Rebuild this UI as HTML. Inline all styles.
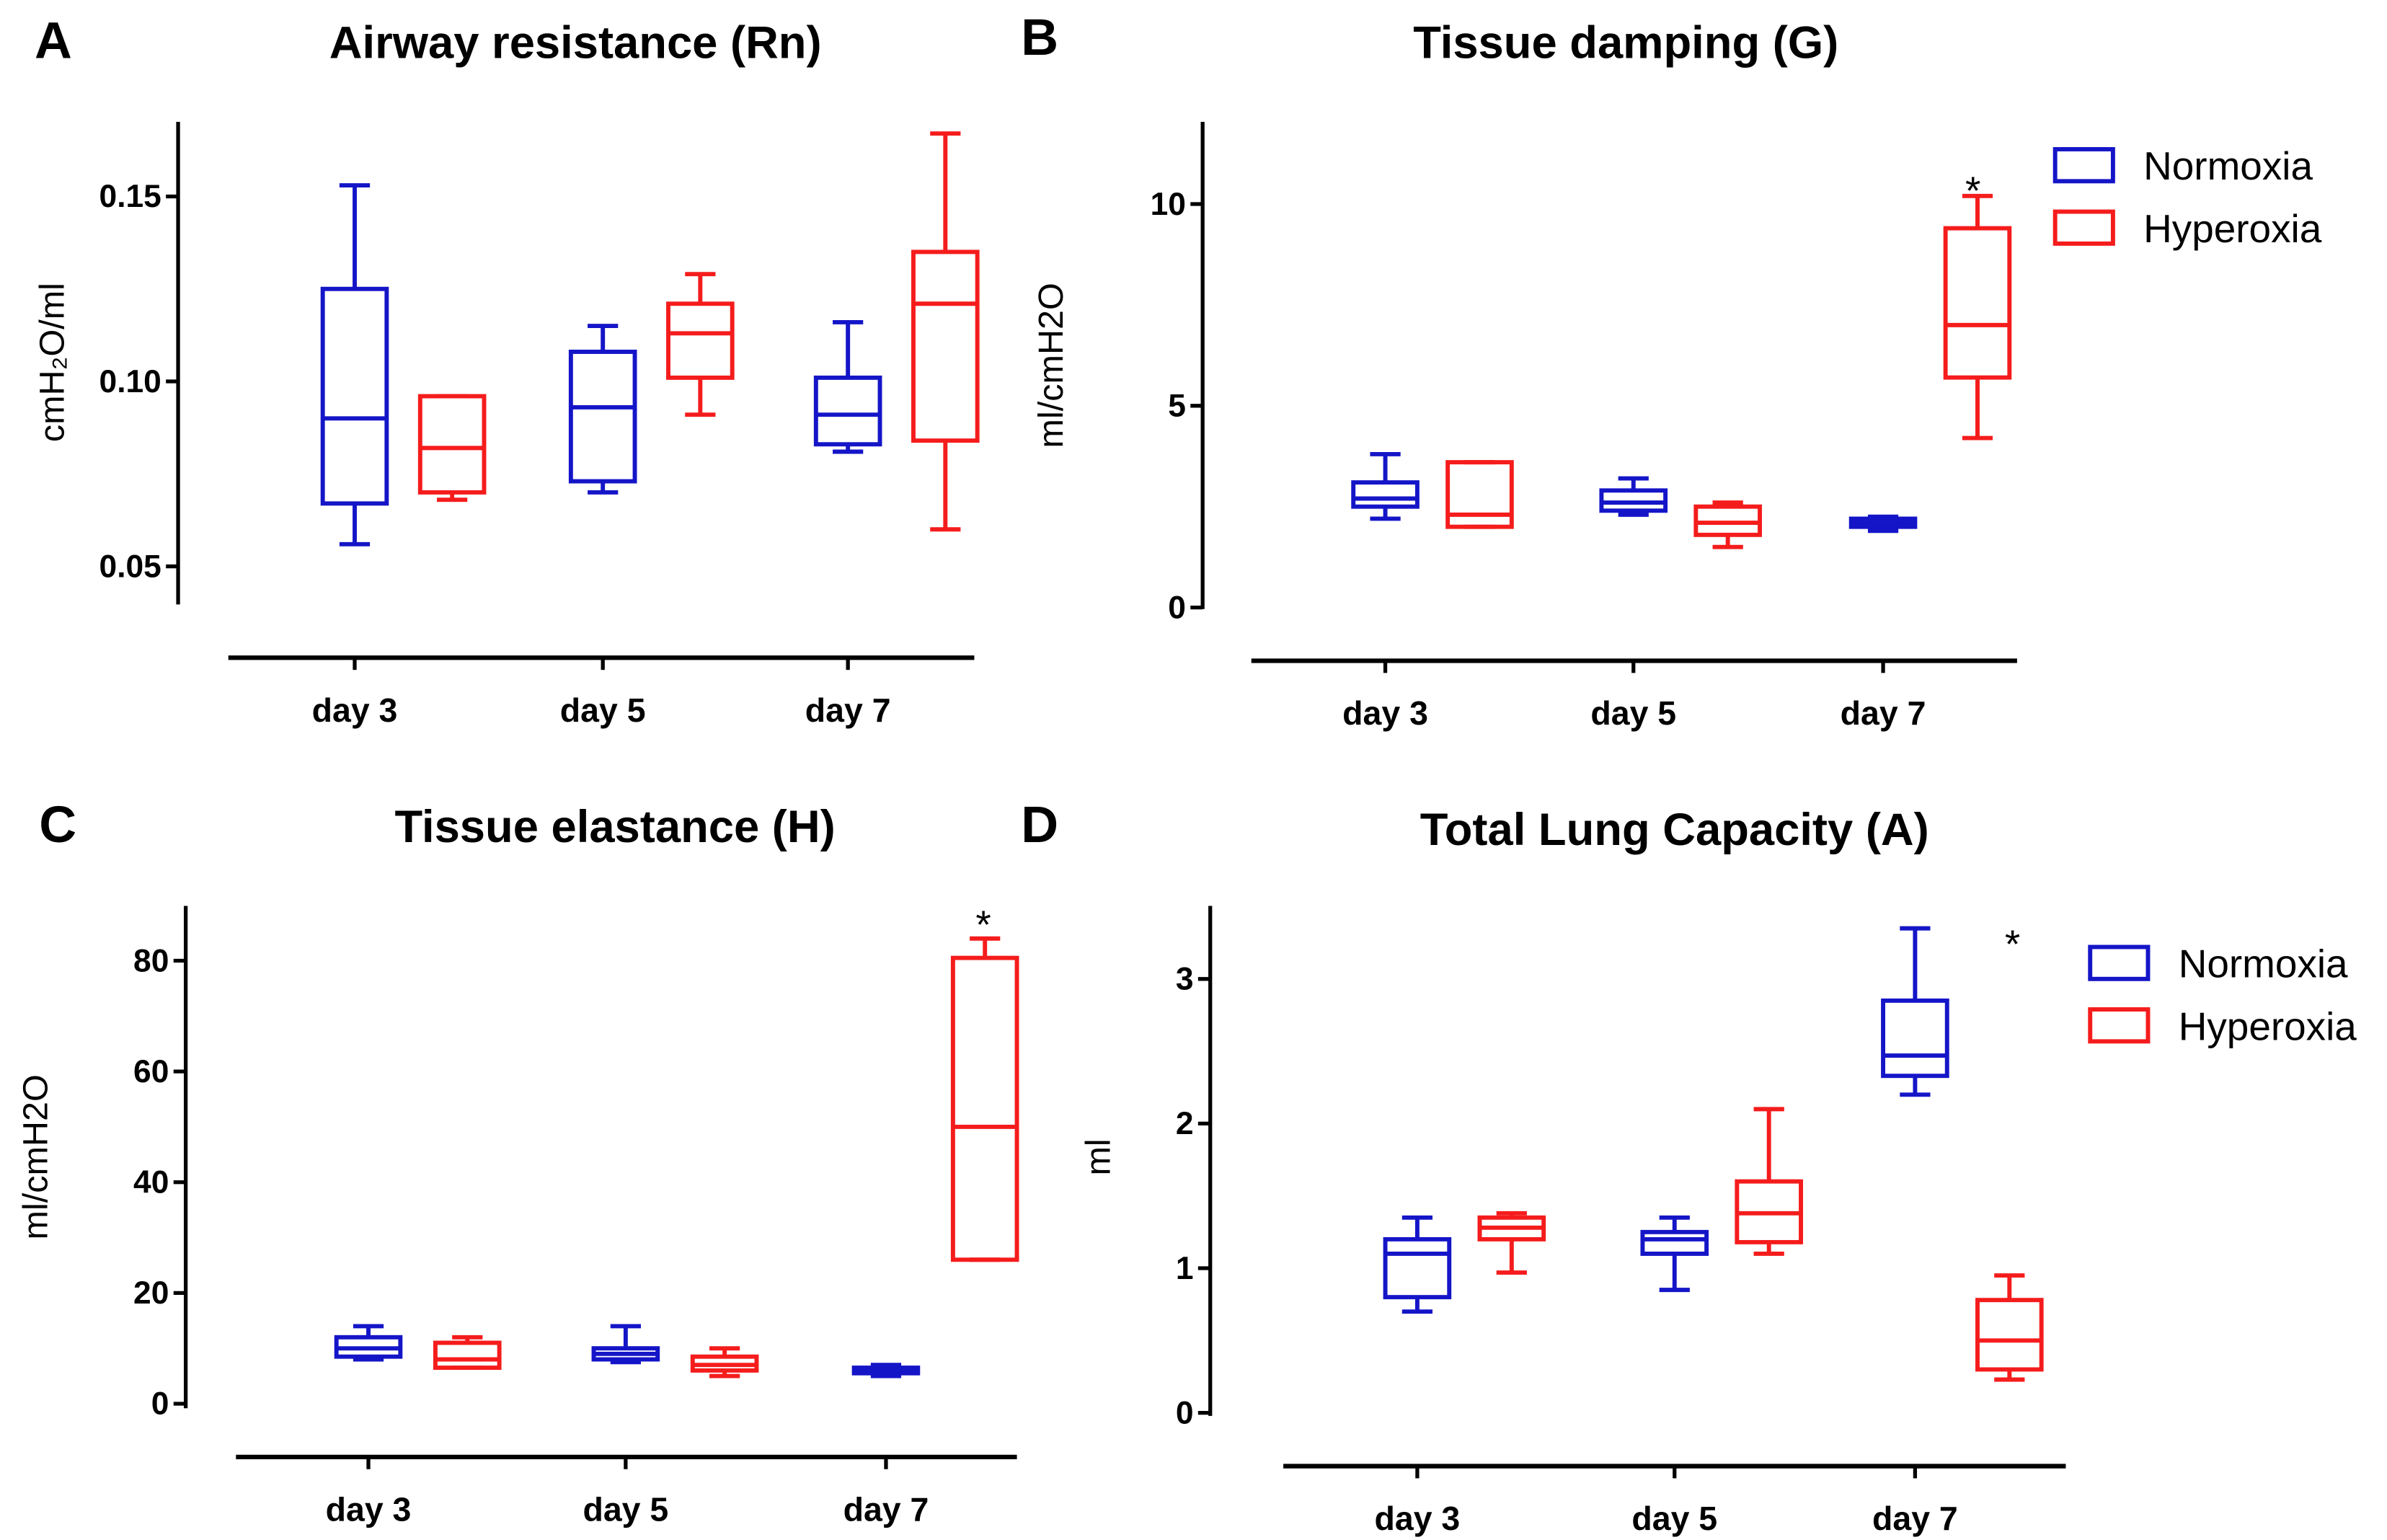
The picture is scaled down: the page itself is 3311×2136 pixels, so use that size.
<!DOCTYPE html>
<html><head><meta charset="utf-8"><style>html,body{margin:0;padding:0;background:#fff}svg{display:block}</style></head>
<body>
<svg id="fig" xmlns="http://www.w3.org/2000/svg" width="3311" height="2136" viewBox="0 0 1568 1011.5" font-family="Liberation Sans, Arial, sans-serif"></svg>
<script>
const categories = ["day 3","day 5","day 7"];
// each box: [min, q1, median, q3, max]
const aNorm = [[0.056,0.067,0.090,0.125,0.153],[0.070,0.073,0.093,0.108,0.115],[0.081,0.083,0.091,0.101,0.116]];
const aHyper = [[0.068,0.070,0.082,0.096,0.096],[0.091,0.101,0.113,0.121,0.129],[0.060,0.084,0.121,0.135,0.167]];
const bNorm = [[2.2,2.5,2.7,3.1,3.8],[2.3,2.4,2.6,2.9,3.2],[1.9,2.0,2.1,2.2,2.25]];
const bHyper = [[2.0,2.0,2.3,3.6,3.6],[1.5,1.8,2.1,2.5,2.6],[4.2,5.7,7.0,9.4,10.2]];
const cNorm = [[8,8.5,10,12,14],[7.5,8,9,10,14],[5,5.5,6,6.5,7]];
const cHyper = [[6.5,6.5,8,11,12],[5,6,7,8.5,10],[26,26,50,80.5,84]];
const dNorm = [[0.7,0.8,1.1,1.2,1.35],[0.85,1.1,1.2,1.25,1.35],[2.2,2.33,2.47,2.85,3.35]];
const dHyper = [[0.97,1.2,1.28,1.35,1.38],[1.1,1.18,1.38,1.6,2.1],[0.23,0.3,0.5,0.78,0.95]];
const aTicks = [0.05,0.10,0.15], aTickLabels = ["0.05","0.10","0.15"];
const bTicks = [0,5,10], bTickLabels = ["0","5","10"];
const cTicks = [0,20,40,60,80], cTickLabels = ["0","20","40","60","80"];
const dTicks = [0,1,2,3], dTickLabels = ["0","1","2","3"];

const NS="http://www.w3.org/2000/svg", svg=document.getElementById('fig');
function mk(tag,attrs,parent,text){const e=document.createElementNS(NS,tag);for(const k in attrs)e.setAttribute(k,attrs[k]);if(text!==undefined)e.textContent=text;(parent||svg).appendChild(e);return e;}

const panels=[
 {id:'a',letter:'A',lx:35,ly:38,title:'Airway resistance (Rn)',tx:378,ty:38,ylab:'cmH\u2082O/ml',ylx:42,yly:238,
  ax:117,ay0:80,ay1:397,v0:0.05,p0:372,v1:0.15,p1:129,xy:432,xx0:150,xx1:640,cx:[233,396,557],off:64,
  norm:aNorm,hyper:aHyper,ticks:aTicks,tl:aTickLabels},
 {id:'b',letter:'B',lx:683,ly:36,title:'Tissue damping  (G)',tx:1068,ty:38,ylab:'ml/cmH2O',ylx:698,yly:240,
  ax:790,ay0:80,ay1:400,v0:0,p0:399,v1:10,p1:134,xy:434,xx0:822,xx1:1325,cx:[910,1073,1237],off:62,
  norm:bNorm,hyper:bHyper,ticks:bTicks,tl:bTickLabels,star:[1296,122],legend:[1350,98]},
 {id:'c',letter:'C',lx:38,ly:553,title:'Tissue elastance (H)',tx:404,ty:553,ylab:'ml/cmH2O',ylx:31,yly:760,
  ax:122,ay0:595,ay1:925,v0:0,p0:922,v1:80,p1:631,xy:957,xx0:155,xx1:668,cx:[242,411,582],off:65,
  norm:cNorm,hyper:cHyper,ticks:cTicks,tl:cTickLabels,star:[646,604]},
 {id:'d',letter:'D',lx:683,ly:553,title:'Total Lung Capacity (A)',tx:1100,ty:555,ylab:'ml',ylx:729,yly:760,
  ax:795,ay0:595,ay1:930,v0:0,p0:928,v1:3,p1:643,xy:963,xx0:843,xx1:1357,cx:[931,1100,1258],off:62,
  norm:dNorm,hyper:dHyper,ticks:dTicks,tl:dTickLabels,star:[1322,617],legend:[1373,622]}
];

panels.forEach(p=>{
 const g=mk('g',{});
 
 
 const y=v=>p.p0+(v-p.v0)*(p.p1-p.p0)/(p.v1-p.v0);
 const L=mk('text',{x:p.lx,y:p.ly,'font-size':34,'font-weight':'bold','text-anchor':'middle'},g,p.letter);
 
 
 const T=mk('text',{x:p.tx,y:p.ty,'font-size':30,'font-weight':'bold','text-anchor':'middle'},g,p.title);
 
 
 const YL=mk('text',{x:p.ylx,y:p.yly,'font-size':23,'text-anchor':'middle',transform:`rotate(-90 ${p.ylx} ${p.yly})`},g,p.ylab);
 
 
 const ya=mk('line',{x1:p.ax,y1:p.ay0,x2:p.ax,y2:p.ay1,stroke:'#000','stroke-width':2.5},g);
 
 
 p.ticks.forEach((t,i)=>{
  mk('line',{x1:p.ax-8,y1:y(t),x2:p.ax,y2:y(t),stroke:'#000','stroke-width':2.5},g);
  const tl=mk('text',{x:p.ax-11,y:y(t)+7,'font-size':21,'font-weight':'bold','text-anchor':'end'},g,p.tl[i]);
  
  
 });
 const xa=mk('line',{x1:p.xx0,y1:p.xy,x2:p.xx1,y2:p.xy,stroke:'#000','stroke-width':3},g);
 
 
 categories.forEach((c,i)=>{
  const cx=p.cx[i];
  mk('line',{x1:cx,y1:p.xy,x2:cx,y2:p.xy+8,stroke:'#000','stroke-width':2.5},g);
  const cl=mk('text',{x:cx,y:p.xy+42,'font-size':22,'font-weight':'bold','text-anchor':'middle'},g,c);
  
  
  [[p.norm[i],'#1515c8',cx,'normoxia'],[p.hyper[i],'#f51c1c',cx+p.off,'hyperoxia']].forEach(([d,col,x,nm])=>{
   const bg=mk('g',{stroke:col,'stroke-width':2.8,fill:'none'},g);
   
   
   const w=21,cw=10;
   mk('line',{x1:x,y1:y(d[0]),x2:x,y2:y(d[1])},bg);
   mk('line',{x1:x,y1:y(d[3]),x2:x,y2:y(d[4])},bg);
   mk('line',{x1:x-cw,y1:y(d[0]),x2:x+cw,y2:y(d[0])},bg);
   mk('line',{x1:x-cw,y1:y(d[4]),x2:x+cw,y2:y(d[4])},bg);
   mk('rect',{x:x-w,y:y(d[3]),width:2*w,height:Math.max(0.5,y(d[1])-y(d[3]))},bg);
   mk('line',{x1:x-w,y1:y(d[2]),x2:x+w,y2:y(d[2])},bg);
  });
 });
 if(p.star){
  const s=mk('text',{x:p.star[0],y:p.star[1]+12,'font-size':26,'text-anchor':'middle'},g,'*');
  
  
 }
 if(p.legend){
  const [lx,ly]=p.legend;
  [['Normoxia','#1515c8',0],['Hyperoxia','#f51c1c',41]].forEach(([n,col,dy])=>{
   const le=mk('g',{},g);
   
   
   mk('rect',{x:lx,y:ly+dy,width:38,height:21,fill:'none',stroke:col,'stroke-width':2.8},le);
   mk('text',{x:lx+58,y:ly+dy+20,'font-size':26},le,n);
  });
 }
});
</script>
</body></html>
